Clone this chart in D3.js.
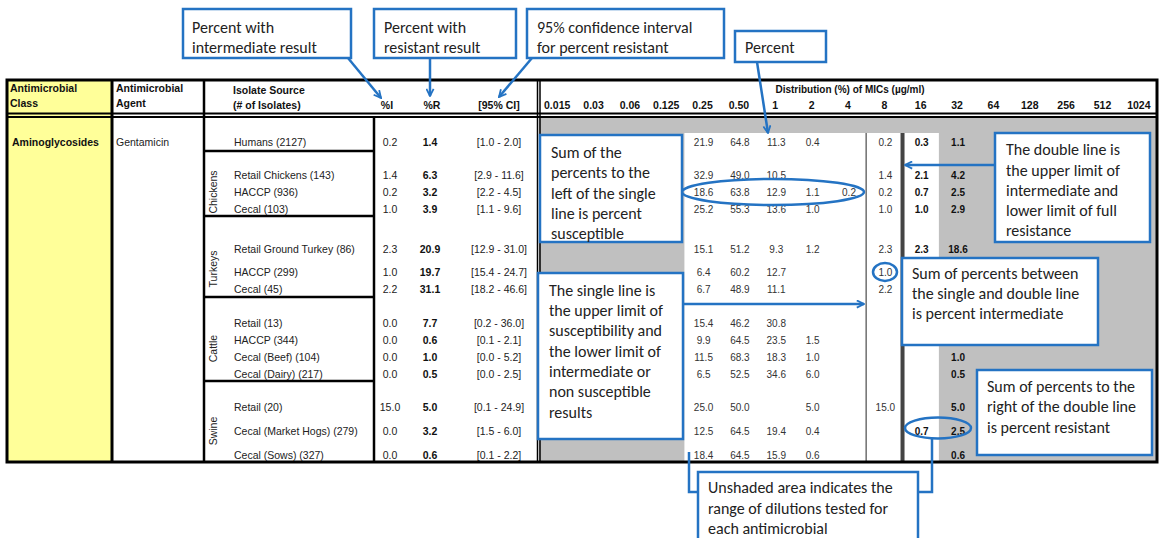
<!DOCTYPE html>
<html><head><meta charset="utf-8">
<script src="https://cdn.jsdelivr.net/npm/d3@7"></script>
<style>body{margin:0;background:#fff}svg{display:block}</style>
</head><body><svg id="c" width="1159" height="538"></svg>
<script>
// ---------------- DATA ----------------
const micLabels = ["0.015","0.03","0.06","0.125","0.25","0.50","1","2","4","8","16","32","64","128","256","512","1024"];
const antimicrobialClass = "Aminoglycosides";
const antimicrobialAgent = "Gentamicin";
const hostGroups = ["", "Chickens", "Turkeys", "Cattle", "Swine"];
const isolateSources = ["Humans (2127)","Retail Chickens (143)","HACCP (936)","Cecal (103)","Retail Ground Turkey (86)","HACCP (299)","Cecal (45)","Retail (13)","HACCP (344)","Cecal (Beef) (104)","Cecal (Dairy) (217)","Retail (20)","Cecal (Market Hogs) (279)","Cecal (Sows) (327)"];
const sourceGroup = [0,1,1,1,2,2,2,3,3,3,3,4,4,4];
const pctIntermediate = [0.2,1.4,0.2,1.0,2.3,1.0,2.2,0.0,0.0,0.0,0.0,15.0,0.0,0.0];
const pctResistant = [1.4,6.3,3.2,3.9,20.9,19.7,31.1,7.7,0.6,1.0,0.5,5.0,3.2,0.6];
const ciLower = [1.0,2.9,2.2,1.1,12.9,15.4,18.2,0.2,0.1,0.0,0.0,0.1,1.5,0.1];
const ciUpper = [2.0,11.6,4.5,9.6,31.0,24.7,46.6,36.0,2.1,5.2,2.5,24.9,6.0,2.2];
const _ = null;
// distribution (%) by MIC column, one array per isolate source
const micDistribution = [
 [_,_,_,_,21.9,64.8,11.3,0.4,_,0.2,0.3,1.1,_,_,_,_,_],
 [_,_,_,_,32.9,49.0,10.5,_,_,1.4,2.1,4.2,_,_,_,_,_],
 [_,_,_,_,18.6,63.8,12.9,1.1,0.2,0.2,0.7,2.5,_,_,_,_,_],
 [_,_,_,_,25.2,55.3,13.6,1.0,_,1.0,1.0,2.9,_,_,_,_,_],
 [_,_,_,_,15.1,51.2,9.3,1.2,_,2.3,2.3,18.6,_,_,_,_,_],
 [_,_,_,_,6.4,60.2,12.7,_,_,1.0,_,_,_,_,_,_,_],
 [_,_,_,_,6.7,48.9,11.1,_,_,2.2,_,_,_,_,_,_,_],
 [_,_,_,_,15.4,46.2,30.8,_,_,_,_,_,_,_,_,_,_],
 [_,_,_,_,9.9,64.5,23.5,1.5,_,_,_,_,_,_,_,_,_],
 [_,_,_,_,11.5,68.3,18.3,1.0,_,_,_,1.0,_,_,_,_,_],
 [_,_,_,_,6.5,52.5,34.6,6.0,_,_,_,0.5,_,_,_,_,_],
 [_,_,_,_,25.0,50.0,_,5.0,_,15.0,_,5.0,_,_,_,_,_],
 [_,_,_,_,12.5,64.5,19.4,0.4,_,_,0.7,2.5,_,_,_,_,_],
 [_,_,_,_,18.4,64.5,15.9,0.6,_,_,_,0.6,_,_,_,_,_]
];
const testedRange = ["0.25","16"];     // unshaded dilution range
const susceptibleMax = "4";            // single line after this MIC
const intermediateMax = "8";           // double line after this MIC

// ---------------- LAYOUT ----------------
const svg = d3.select("#c");
const L = {left:7, right:1157, top:80, headMid:113.5, headBottom:117, bottom:462,
  classRight:112, agentRight:204, sourceRight:374, statsRight:539, shadeTop:133};
const rowCenters = [142,175,192,209,249,272,289,323,340,357,374,407,431,455];
const groupBounds = [[117,151],[151,216],[216,297],[297,381],[381,462]];
const x = d3.scaleBand().domain(micLabels).range([L.statsRight, L.right]);
const rowY = d3.scaleOrdinal().domain(d3.range(isolateSources.length)).range(rowCenters);
const fmt = d3.format(".1f");
const TF = "'Liberation Sans', Arial, sans-serif";
const CF = "Carlito, Calibri, Lato, sans-serif";
const BLUE = "#2473c3";

// backgrounds
svg.append("rect").attr("x",L.left).attr("y",L.top).attr("width",L.classRight-L.left).attr("height",L.bottom-L.top).attr("fill","#ffff99");
svg.append("rect").attr("x",L.statsRight).attr("y",L.headBottom).attr("width",L.right-L.statsRight).attr("height",L.bottom-L.headBottom).attr("fill","#c0c0c0");
svg.append("rect").attr("x",x(testedRange[0])).attr("y",L.shadeTop)
  .attr("width",x(testedRange[1])+x.bandwidth()-x(testedRange[0])).attr("height",L.bottom-L.shadeTop).attr("fill","#fff");

// header text
const head = svg.append("g").attr("font-family",TF).attr("font-weight","bold").attr("font-size",10.5).attr("fill","#111");
[["Antimicrobial",10,88],["Class",10,103],["Antimicrobial",116,88],["Agent",116,103],["Isolate Source",233,90],["(# of Isolates)",233,105]]
 .forEach(([t,xx,yy])=>head.append("text").attr("x",xx).attr("y",yy).attr("dy","0.35em").text(t));
[["%I",387],["%R",432],["[95% CI]",499]].forEach(([t,xx])=>head.append("text").attr("x",xx).attr("y",105).attr("dy","0.35em").attr("text-anchor","middle").text(t));
head.append("text").attr("x",850).attr("y",89).attr("dy","0.35em").attr("text-anchor","middle").attr("font-size",10).text("Distribution (%) of MICs (µg/ml)");
head.selectAll("text.mic").data(micLabels).join("text").attr("class","mic")
  .attr("x",d=>x(d)+x.bandwidth()/2).attr("y",105).attr("dy","0.35em").attr("text-anchor","middle").text(d=>d);

// body text
const body = svg.append("g").attr("font-family",TF).attr("font-size",10.5).attr("fill","#222");
body.append("text").attr("x",12).attr("y",rowY(0)).attr("dy","0.35em").attr("font-weight","bold").attr("fill","#111").text(antimicrobialClass);
body.append("text").attr("x",116).attr("y",rowY(0)).attr("dy","0.35em").text(antimicrobialAgent);
const rows = body.selectAll("g.row").data(isolateSources.map((s,i)=>i)).join("g").attr("class","row")
  .attr("transform",i=>`translate(0,${rowY(i)})`);
rows.append("text").attr("x",234).attr("dy","0.35em").text(i=>isolateSources[i]);
rows.append("text").attr("x",390).attr("dy","0.35em").attr("text-anchor","middle").text(i=>fmt(pctIntermediate[i]));
rows.append("text").attr("x",430).attr("dy","0.35em").attr("text-anchor","middle").attr("font-weight","bold").attr("fill","#111").text(i=>fmt(pctResistant[i]));
rows.append("text").attr("x",499).attr("dy","0.35em").attr("text-anchor","middle").text(i=>`[${fmt(ciLower[i])} - ${fmt(ciUpper[i])}]`);
const dblIdx = micLabels.indexOf(intermediateMax);
rows.each(function(i){
  d3.select(this).selectAll("text.v").data(micDistribution[i].map((v,j)=>({v,j})).filter(d=>d.v!==null)).join("text")
    .attr("class","v").attr("x",d=>x(micLabels[d.j])+x.bandwidth()/2+1).attr("dy","0.35em")
    .attr("text-anchor","middle").attr("font-size",10)
    .attr("font-weight",d=>d.j>dblIdx?"bold":"normal")
    .attr("fill",d=>d.j>dblIdx?"#111":"#333")
    .text(d=>fmt(d.v));
});
// group labels (rotated)
groupBounds.forEach((b,g)=>{
  if(!hostGroups[g]) return;
  const idx = sourceGroup.map((s,i)=>s===g?i:-1).filter(i=>i>=0);
  const cy = (rowY(idx[0])+rowY(idx[idx.length-1]))/2;
  body.append("text").attr("transform",`translate(213,${cy}) rotate(-90)`).attr("dy","0.35em")
    .attr("text-anchor","middle").text(hostGroups[g]);
});

// table lines
const lines = svg.append("g").attr("stroke","#000").attr("fill","none");
const ln=(x1,y1,x2,y2,w,c)=>lines.append("line").attr("x1",x1).attr("y1",y1).attr("x2",x2).attr("y2",y2).attr("stroke-width",w).attr("stroke",c||"#000");
ln(L.left,L.headMid,L.right,L.headMid,1.8);
ln(L.left,L.headBottom,L.right,L.headBottom,1.8);
ln(L.classRight,L.top,L.classRight,L.bottom,3);
ln(L.agentRight,L.top,L.agentRight,L.bottom,2.5);
ln(L.sourceRight,L.headBottom,L.sourceRight,L.bottom,2.5);
ln(L.statsRight-1.5,L.top,L.statsRight-1.5,L.bottom,1.5);
ln(L.statsRight+1,L.top,L.statsRight+1,L.bottom,1.5);
groupBounds.slice(0,-1).forEach(b=>ln(L.agentRight,b[1],L.sourceRight,b[1],2.5));
ln(x(intermediateMax),L.shadeTop,x(intermediateMax),L.bottom,1.6,"#777");
ln(x(micLabels[dblIdx+1]),L.shadeTop,x(micLabels[dblIdx+1]),L.bottom,4,"#444");
lines.append("rect").attr("x",L.left).attr("y",L.top).attr("width",L.right-L.left).attr("height",L.bottom-L.top).attr("stroke-width",3);

// ---------------- CALLOUTS ----------------
const defs = svg.append("defs");
defs.append("marker").attr("id","ah").attr("viewBox","0 0 10 10").attr("refX",9).attr("refY",5)
  .attr("markerWidth",9).attr("markerHeight",9).attr("markerUnits","userSpaceOnUse").attr("orient","auto")
  .append("path").attr("d","M1,1 L9,5 L1,9").attr("fill","none").attr("stroke",BLUE).attr("stroke-width",2);
const co = svg.append("g");
const callouts = [
 {x:183,y:9,w:168,h:49,tx:192,ty:[27,47],lines:["Percent with","intermediate result"]},
 {x:374,y:9,w:142,h:49,tx:384,ty:[27,47],lines:["Percent with","resistant result"]},
 {x:527,y:9,w:197,h:49,tx:537,ty:[27,47],lines:["95% confidence interval","for percent resistant"]},
 {x:735,y:31,w:91,h:31,tx:745,ty:[47],lines:["Percent"]},
 {x:540,y:135,w:142,h:107,tx:551,ty:[152,172,193,213,233],lines:["Sum of the","percents to the","left of the single","line is percent","susceptible"]},
 {x:995,y:133,w:155,h:109,tx:1006,ty:[149,170,190,210,230],lines:["The double line is","the upper limit of","intermediate and","lower limit of full","resistance"]},
 {x:902,y:258,w:196,h:87,tx:912,ty:[273,293,313],lines:["Sum of percents between","the single and double line","is percent intermediate"]},
 {x:538,y:273,w:145,h:166,tx:549,ty:[290,310,330,351,371,391,412],lines:["The single line is","the upper limit of","susceptibility and","the lower limit of","intermediate or","non susceptible","results"]},
 {x:977,y:370,w:175,h:85,tx:987,ty:[386,406,427],lines:["Sum of percents to the","right of the double line","is percent resistant"]},
 {x:698,y:472,w:220,h:80,tx:708,ty:[487,508,528],lines:["Unshaded area indicates the","range of dilutions tested for","each antimicrobial"]}
];
const connectors = [
 {p:[[348,58],[381,98]],arrow:true},
 {p:[[430,58],[430,96]],arrow:true},
 {p:[[532,58],[499,97]],arrow:true},
 {p:[[757,62],[768,133]],arrow:true},
 {p:[[995,165],[905,165]],arrow:true},
 {p:[[683,304],[864,304]],arrow:true},
 {p:[[689,452],[689,492],[698,492]],arrow:false},
 {p:[[918,492],[932,492],[932,439]],arrow:false}
];
const ellipses = [[773,192,91,13],[885,272,12,9],[938,428,33,10.5]];
co.selectAll("path.cn").data(connectors).join("path").attr("class","cn")
  .attr("d",d=>d3.line()(d.p)).attr("fill","none").attr("stroke",BLUE).attr("stroke-width",2.5)
  .attr("marker-end",d=>d.arrow?"url(#ah)":null);
co.selectAll("ellipse").data(ellipses).join("ellipse")
  .attr("cx",d=>d[0]).attr("cy",d=>d[1]).attr("rx",d=>d[2]).attr("ry",d=>d[3])
  .attr("fill","none").attr("stroke",BLUE).attr("stroke-width",2.5);
const cg = co.selectAll("g.co").data(callouts).join("g").attr("class","co");
cg.append("rect").attr("x",d=>d.x).attr("y",d=>d.y).attr("width",d=>d.w).attr("height",d=>d.h)
  .attr("fill","#fff").attr("stroke",BLUE).attr("stroke-width",2.5);
cg.each(function(d){
  d3.select(this).selectAll("text").data(d.lines).join("text")
    .attr("x",d.tx).attr("y",(t,k)=>d.ty[k]).attr("dy","0.35em")
    .attr("font-family",CF).attr("font-size",16).attr("fill","#222").text(t=>t);
});
</script></body></html>
